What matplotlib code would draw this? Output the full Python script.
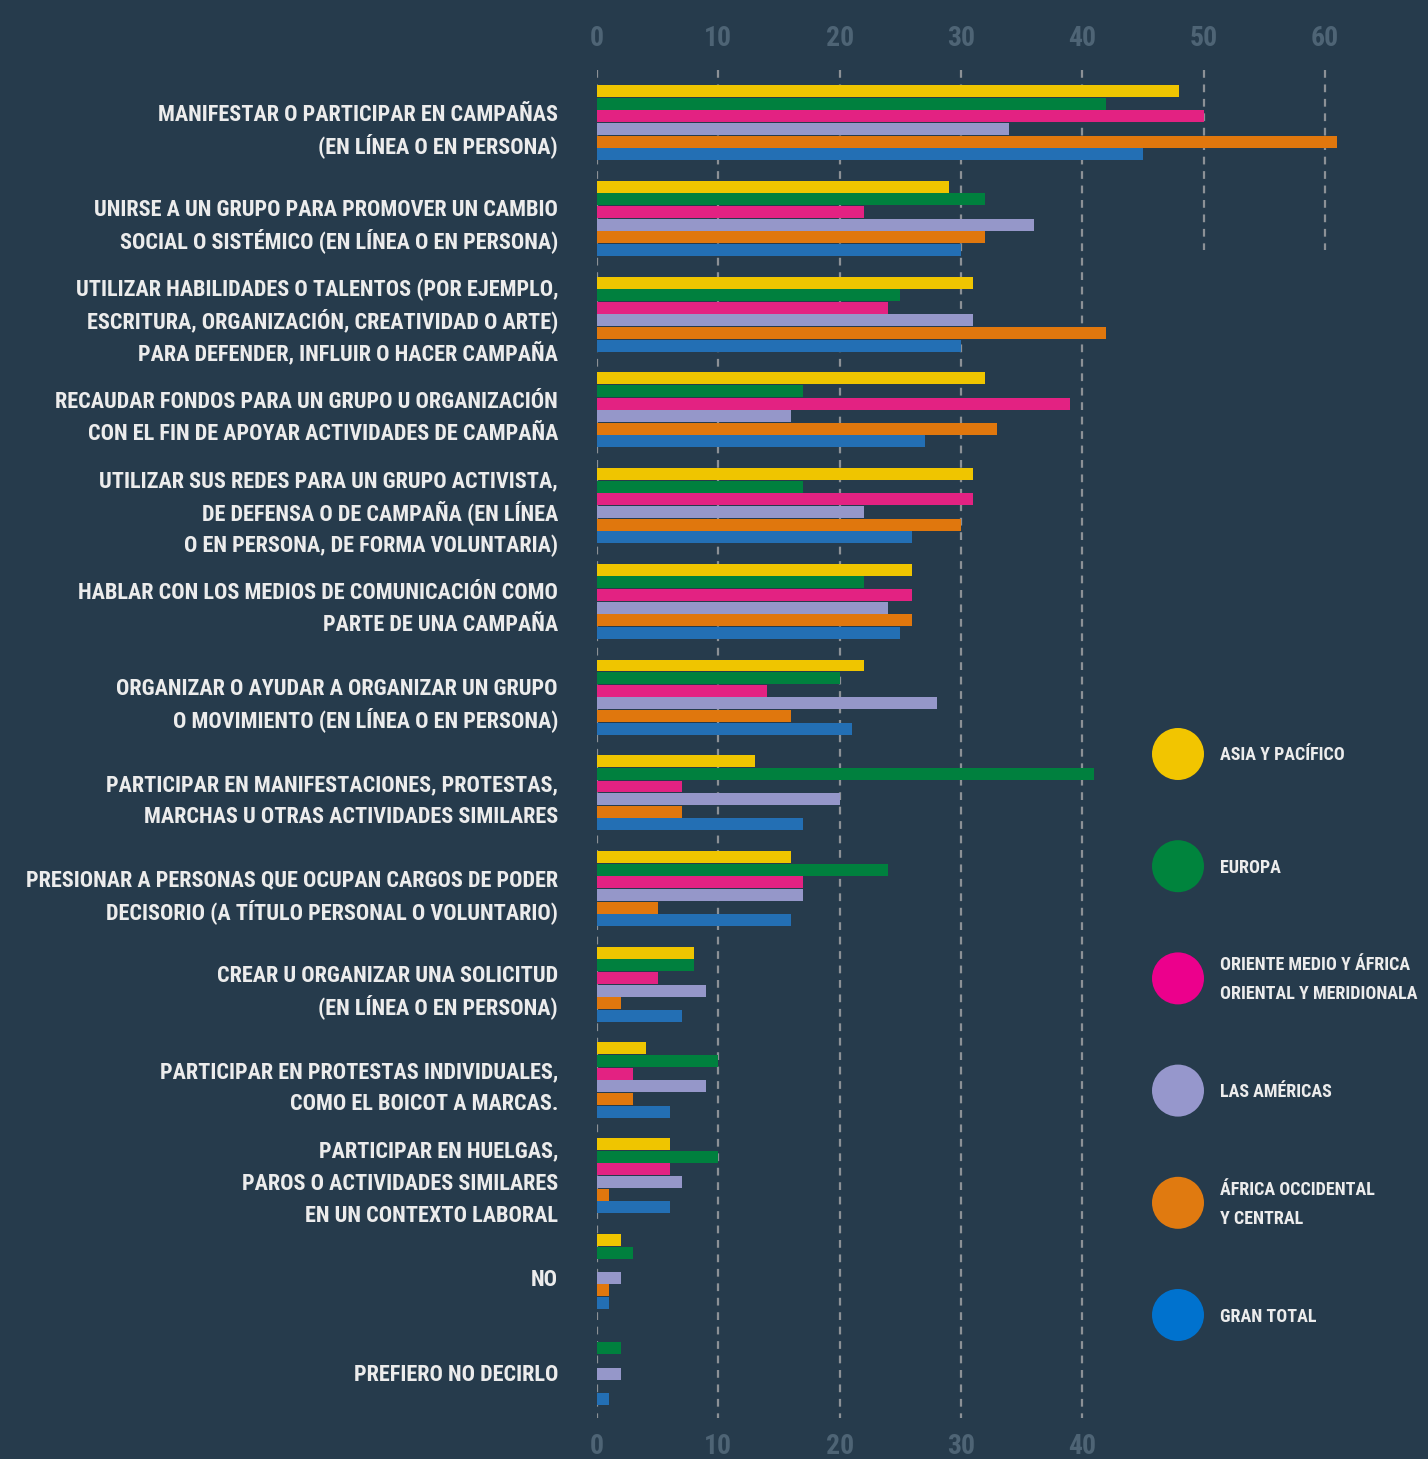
import matplotlib.pyplot as plt
from matplotlib import font_manager
from matplotlib.patches import Circle
from matplotlib.transforms import blended_transform_factory

categories = [
    "MANIFESTAR O PARTICIPAR EN CAMPAÑAS\n(EN LÍNEA O EN PERSONA)",
    "UNIRSE A UN GRUPO PARA PROMOVER UN CAMBIO\nSOCIAL O SISTÉMICO (EN LÍNEA O EN PERSONA)",
    "UTILIZAR HABILIDADES O TALENTOS (POR EJEMPLO,\nESCRITURA, ORGANIZACIÓN, CREATIVIDAD O ARTE)\nPARA DEFENDER, INFLUIR O HACER CAMPAÑA",
    "RECAUDAR FONDOS PARA UN GRUPO U ORGANIZACIÓN\nCON EL FIN DE APOYAR ACTIVIDADES DE CAMPAÑA",
    "UTILIZAR SUS REDES PARA UN GRUPO ACTIVISTA,\nDE DEFENSA O DE CAMPAÑA (EN LÍNEA\nO EN PERSONA, DE FORMA VOLUNTARIA)",
    "HABLAR CON LOS MEDIOS DE COMUNICACIÓN COMO\nPARTE DE UNA CAMPAÑA",
    "ORGANIZAR O AYUDAR A ORGANIZAR UN GRUPO\nO MOVIMIENTO (EN LÍNEA O EN PERSONA)",
    "PARTICIPAR EN MANIFESTACIONES, PROTESTAS,\nMARCHAS U OTRAS ACTIVIDADES SIMILARES",
    "PRESIONAR A PERSONAS QUE OCUPAN CARGOS DE PODER\nDECISORIO (A TÍTULO PERSONAL O VOLUNTARIO)",
    "CREAR U ORGANIZAR UNA SOLICITUD\n(EN LÍNEA O EN PERSONA)",
    "PARTICIPAR EN PROTESTAS INDIVIDUALES,\nCOMO EL BOICOT A MARCAS.",
    "PARTICIPAR EN HUELGAS,\nPAROS O ACTIVIDADES SIMILARES\nEN UN CONTEXTO LABORAL",
    "NO",
    "PREFIERO NO DECIRLO",
]

series_names = [
    "ASIA Y PACÍFICO",
    "EUROPA",
    "ORIENTE MEDIO Y ÁFRICA\nORIENTAL Y MERIDIONALA",
    "LAS AMÉRICAS",
    "ÁFRICA OCCIDENTAL\nY CENTRAL",
    "GRAN TOTAL",
]

asia_pacifico = [48, 29, 31, 32, 31, 26, 22, 13, 16, 8, 4, 6, 2, 0]
europa = [42, 32, 25, 17, 17, 22, 20, 41, 24, 8, 10, 10, 3, 2]
oriente_medio = [50, 22, 24, 39, 31, 26, 14, 7, 17, 5, 3, 6, 0, 0]
americas = [34, 36, 31, 16, 22, 24, 28, 20, 17, 9, 9, 7, 2, 2]
africa_occ = [61, 32, 42, 33, 30, 26, 16, 7, 5, 2, 3, 1, 1, 0]
gran_total = [45, 30, 30, 27, 26, 25, 21, 17, 16, 7, 6, 6, 1, 1]

top_ticks = [0, 10, 20, 30, 40, 50, 60]
bottom_ticks = [0, 10, 20, 30, 40]

values = [asia_pacifico, europa, oriente_medio, americas, africa_occ, gran_total]
bar_colors = ['#efc500', '#00803e', '#e32282', '#9597c9', '#e0770d', '#236fb4']
dot_colors = ['#f2c500', '#00843d', '#ec008c', '#9697cc', '#e07a10', '#0072ce']

BG = '#263b4c'
TXT = '#ececec'
TICK = '#4e6475'
GRID = '#8c9196'

# pick a narrow font if there is one
names = font_manager.get_font_names()
family = None
for f in ('Roboto Condensed', 'Liberation Sans Narrow', 'Open Sans Condensed',
          'Noto Sans Condensed'):
    if f in names:
        family = f
        break
if family is None:
    family = 'DejaVu Sans'
    plt.rcParams['font.stretch'] = 'condensed'
plt.rcParams['font.family'] = [family, 'DejaVu Sans']
plt.rcParams['font.weight'] = 'bold'

W, H = 1428, 1459
fig = plt.figure(figsize=(W / 100, H / 100), dpi=100, facecolor=BG)

# main axes in pixel layout: x0 at 597 px, top 70 px, bottom 1418 px
ax = fig.add_axes([597 / W, 41 / H, 746 / W, 1348 / H])
ax.set_facecolor(BG)
ax.set_xlim(0, 61.5)
ax.set_ylim(13.53, -0.55)
for s in ax.spines.values():
    s.set_visible(False)
ax.set_xticks([])
ax.set_yticks([])

# dashed grid, 50 and 60 only reach the second group
for t in top_ticks:
    yend = 13.53 if t <= 40 else 1.33
    ax.plot([t, t], [-0.55, yend], color=GRID, lw=1.6,
            ls=(0, (3.5, 3)), zorder=1)

bh = 0.125
step = 0.132
for j, (vals, col) in enumerate(zip(values, bar_colors)):
    ys = [i + (j - 2.5) * step for i in range(len(categories))]
    ax.barh(ys, vals, height=bh, color=col, zorder=2)

# category labels, one text per line on baselines so the pitch stays even
line_px = 32
cap_half = 8
for i, lab in enumerate(categories):
    lines = lab.split('\n')
    n = len(lines)
    for k, ln in enumerate(lines):
        dy = -((k - (n - 1) / 2) * line_px + 6 + cap_half)
        ax.annotate(ln, xy=(0, i), xytext=(-39, dy),
                    textcoords='offset pixels', ha='right', va='baseline',
                    color=TXT, fontsize=16, annotation_clip=False)

# tick numbers: 0-60 on top, 0-40 at the bottom
tr = blended_transform_factory(ax.transData, ax.transAxes)
for t in top_ticks:
    ax.text(t, 1.0 + 31 / 1348, str(t), transform=tr, color=TICK,
            fontsize=20, ha='center', va='center')
for t in bottom_ticks:
    ax.text(t, -28 / 1348, str(t), transform=tr, color=TICK,
            fontsize=20, ha='center', va='center')

# legend drawn in pixel space
lg = fig.add_axes([0, 0, 1, 1])
lg.set_xlim(0, W)
lg.set_ylim(H, 0)
lg.axis('off')
for k, (name, col) in enumerate(zip(series_names, dot_colors)):
    cy = 754 + k * 112.2
    lg.add_patch(Circle((1178, cy), 26, facecolor=col, edgecolor='none'))
    lines = name.split('\n')
    n = len(lines)
    for m, ln in enumerate(lines):
        lg.text(1220, cy + (m - (n - 1) / 2) * 29 + 6.5, ln, color=TXT,
                fontsize=13, va='baseline', ha='left')

fig.savefig('out.png', dpi=100, facecolor=BG)
